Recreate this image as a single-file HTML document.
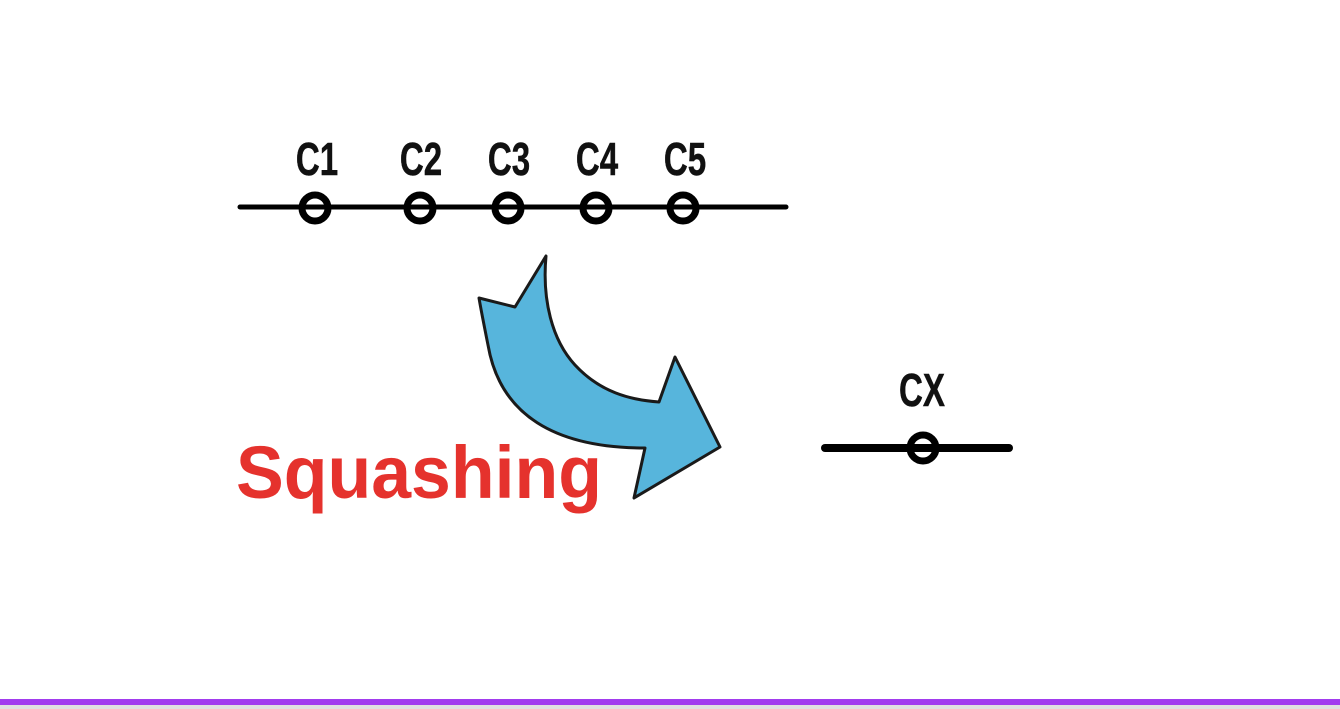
<!DOCTYPE html>
<html><head><style>
html,body{margin:0;padding:0;background:#fff;width:1340px;height:709px;overflow:hidden}
</style></head><body>
<svg width="1340" height="709" viewBox="0 0 1340 709" xmlns="http://www.w3.org/2000/svg">
<rect width="1340" height="709" fill="#fff"/>
<rect x="0" y="699" width="1340" height="6" fill="#a23cee"/>
<rect x="0" y="705" width="1340" height="4" fill="#e0e0e0"/>
<g font-family="Liberation Sans, sans-serif" font-size="46" font-weight="bold" fill="#111" text-anchor="middle" stroke="#111" stroke-width="0.5">
<text transform="translate(317,175) scale(0.72,1)">C1</text>
<text transform="translate(421,175) scale(0.72,1)">C2</text>
<text transform="translate(509,175) scale(0.72,1)">C3</text>
<text transform="translate(597,175) scale(0.72,1)">C4</text>
<text transform="translate(685,175) scale(0.72,1)">C5</text>
<text transform="translate(922,406) scale(0.72,1)">CX</text>
</g>
<line x1="240" y1="207" x2="786" y2="207" stroke="#000" stroke-width="5" stroke-linecap="round"/>
<g fill="none" stroke="#000" stroke-width="7">
<circle cx="315" cy="208" r="13"/>
<circle cx="420" cy="208" r="13"/>
<circle cx="508" cy="208" r="13"/>
<circle cx="596" cy="208" r="13"/>
<circle cx="683" cy="208" r="13"/>
</g>
<line x1="825" y1="448" x2="1009" y2="448" stroke="#000" stroke-width="8" stroke-linecap="round"/>
<circle cx="923" cy="448" r="13" fill="none" stroke="#000" stroke-width="7"/>
<path d="M546,256 C542,300 552,340 575,365 C600,392 630,400 659,402 L675,357 L720,447 L634,498 L645,448 C555,448 500,415 488,345 C484,325 481,310 479,298 L515,307 Z" fill="#57b5dc" stroke="#1a1a1a" stroke-width="3" stroke-linejoin="round"/>
<text x="236" y="498" font-family="Liberation Sans, sans-serif" font-weight="bold" font-size="74" fill="#e5322d" textLength="366" lengthAdjust="spacingAndGlyphs">Squashing</text>
</svg>
</body></html>
